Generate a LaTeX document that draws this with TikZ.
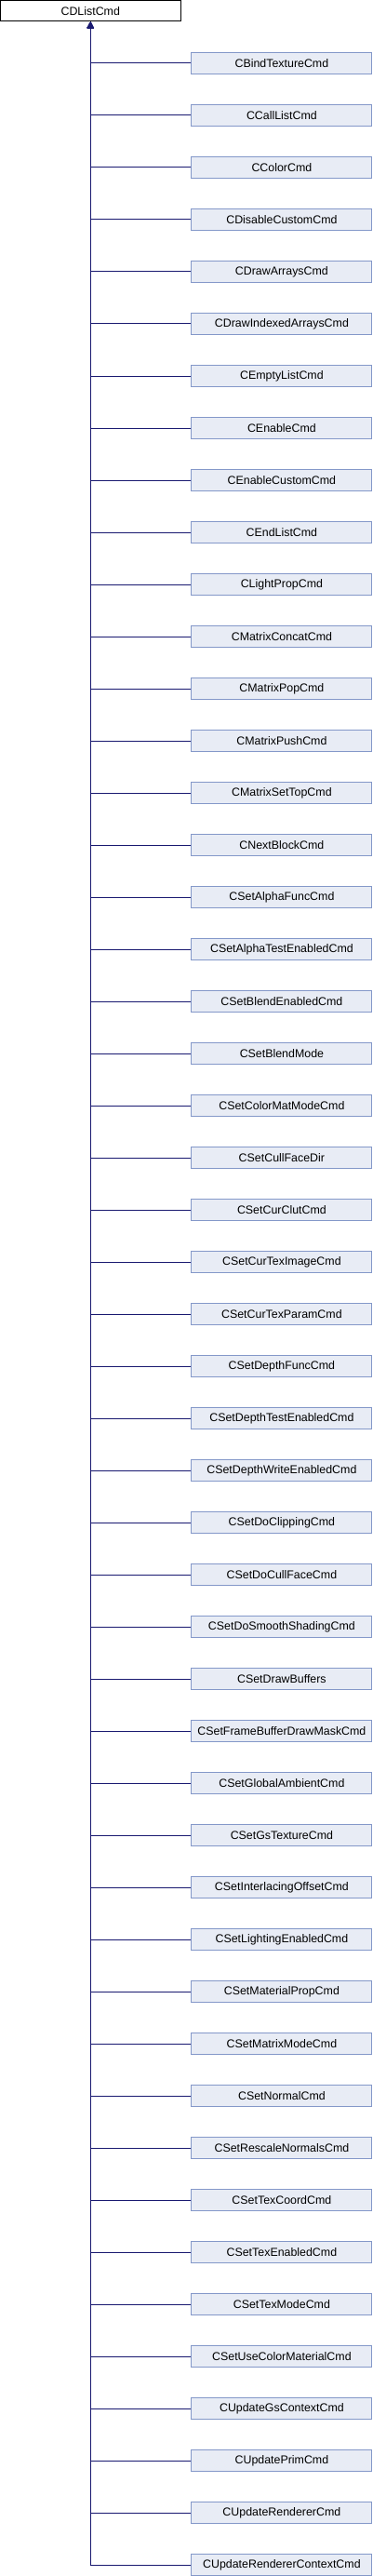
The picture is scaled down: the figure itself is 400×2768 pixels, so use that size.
\documentclass[tikz,border=0pt]{standalone}
\usepackage{fontspec}
\setmainfont{Liberation Sans}
\usetikzlibrary{arrows.meta}
\definecolor{edgeblue}{HTML}{191970}
\definecolor{boxfill}{HTML}{E8ECF5}
\definecolor{boxdraw}{HTML}{8498C9}
\tikzset{
  cls/.style={draw=boxdraw, fill=boxfill, line width=0.75pt, minimum width=194*0.75pt, minimum height=22.5*0.75pt, inner sep=0pt, font=\fontsize{9.3pt}{10pt}\selectfont, anchor=west},
  base/.style={draw=black, fill=white, line width=0.75pt, minimum width=193.5*0.75pt, minimum height=22.5*0.75pt, inner sep=0pt, font=\fontsize{9.3pt}{10pt}\selectfont},
  edge/.style={draw=edgeblue, line width=0.75pt, -{Triangle[length=5pt,width=5pt]}}
}
\begin{document}
\begin{tikzpicture}[x=0.75pt,y=-0.75pt]
\useasboundingbox (0,0) rectangle (400,2768);
\node[base] (top) at (97.25,11.75) {CDListCmd};
\foreach [count=\i from 0] \name in {CBindTextureCmd,CCallListCmd,CColorCmd,CDisableCustomCmd,CDrawArraysCmd,CDrawIndexedArraysCmd,CEmptyListCmd,CEnableCmd,CEnableCustomCmd,CEndListCmd,CLightPropCmd,CMatrixConcatCmd,CMatrixPopCmd,CMatrixPushCmd,CMatrixSetTopCmd,CNextBlockCmd,CSetAlphaFuncCmd,CSetAlphaTestEnabledCmd,CSetBlendEnabledCmd,CSetBlendMode,CSetColorMatModeCmd,CSetCullFaceDir,CSetCurClutCmd,CSetCurTexImageCmd,CSetCurTexParamCmd,CSetDepthFuncCmd,CSetDepthTestEnabledCmd,CSetDepthWriteEnabledCmd,CSetDoClippingCmd,CSetDoCullFaceCmd,CSetDoSmoothShadingCmd,CSetDrawBuffers,CSetFrameBufferDrawMaskCmd,CSetGlobalAmbientCmd,CSetGsTextureCmd,CSetInterlacingOffsetCmd,CSetLightingEnabledCmd,CSetMaterialPropCmd,CSetMatrixModeCmd,CSetNormalCmd,CSetRescaleNormalsCmd,CSetTexCoordCmd,CSetTexEnabledCmd,CSetTexModeCmd,CSetUseColorMaterialCmd,CUpdateGsContextCmd,CUpdatePrimCmd,CUpdateRendererCmd,CUpdateRendererContextCmd} {
  \node[cls] (c\i) at (205.4,{68+56*\i}) {\name};
  \draw[edge] (c\i.west) -| (top.south);
}
\end{tikzpicture}
\end{document}
